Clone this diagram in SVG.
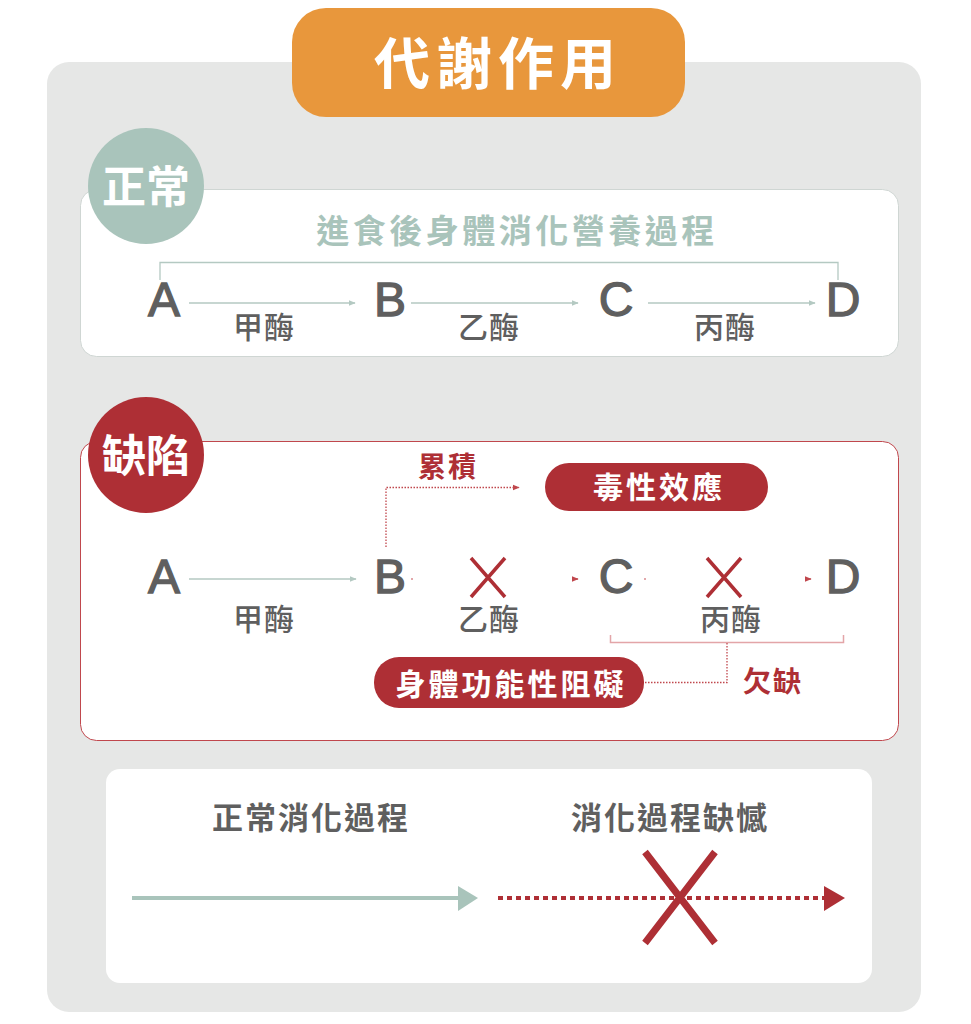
<svg xmlns="http://www.w3.org/2000/svg" width="971" height="1024" viewBox="0 0 971 1024">
<defs>
<style>
.cjk{font-family:"Noto Sans CJK TC","Noto Sans CJK SC",sans-serif;font-weight:700}
.let{font-family:"Liberation Sans",Arial,sans-serif;font-size:48px;fill:#5f5f5f;stroke:#5f5f5f;stroke-width:1.3}
.lbl{font-size:30px;fill:#5f5f5f;letter-spacing:1px;font-weight:500}
.wt{fill:#fff}
.red{fill:#ae2f35}
.thin{stroke:#b4c9c2;stroke-width:1.3;fill:none}
.rdot{stroke:#c0474d;stroke-width:1.3;fill:none;stroke-dasharray:1.5 1.5}
.xr{stroke:#ae2f35;stroke-width:3.5;fill:none}
</style>
<marker id="ag" viewBox="0 0 10 10" refX="9" refY="5" markerWidth="7" markerHeight="7" markerUnits="userSpaceOnUse" orient="auto"><path d="M0,1 L10,5 L0,9 z" fill="#b4c9c2"/></marker>
<marker id="ar" viewBox="0 0 10 10" refX="9" refY="5" markerWidth="7" markerHeight="7" markerUnits="userSpaceOnUse" orient="auto"><path d="M0,1 L10,5 L0,9 z" fill="#c0474d"/></marker>
</defs>
<rect width="971" height="1024" fill="#fff"/>
<rect x="47" y="62" width="874" height="950" rx="22" fill="#e6e7e6"/>
<g id="title">
<rect x="292" y="8" width="393" height="109" rx="34" fill="#e8973c"/>
<text x="498" y="84" text-anchor="middle" class="cjk wt" font-size="56" font-weight="500" letter-spacing="6">代謝作用</text>
</g>
<g id="normal-box">
<rect x="80.5" y="189.5" width="818" height="167" rx="16" fill="#fff" stroke="#cfd6d3" stroke-width="1"/>
<text x="517" y="243" text-anchor="middle" class="cjk" font-size="33" fill="#a9c4bb" letter-spacing="3.5">進食後身體消化營養過程</text>
</g>
<g id="normal-badge">
<circle cx="146" cy="186" r="58" fill="#a9c4bb"/>
<text x="146" y="203" text-anchor="middle" class="cjk wt" font-size="44">正常</text>
</g>
<g id="n-A"><text x="164" y="316" text-anchor="middle" class="let">A</text></g>
<g id="n-B"><text x="390" y="316" text-anchor="middle" class="let">B</text></g>
<g id="n-C"><text x="616" y="316" text-anchor="middle" class="let">C</text></g>
<g id="n-D"><text x="843" y="316" text-anchor="middle" class="let">D</text></g>
<g id="n-labels">
<text x="264" y="338" text-anchor="middle" class="cjk lbl">甲酶</text>
<text x="489" y="338" text-anchor="middle" class="cjk lbl">乙酶</text>
<text x="725" y="338" text-anchor="middle" class="cjk lbl">丙酶</text>
</g>
<g id="defect-box">
<rect x="80.5" y="441.5" width="818" height="299" rx="16" fill="#fff" stroke="#c0474d" stroke-width="1"/>
</g>
<g id="defect-badge">
<circle cx="146" cy="455" r="58" fill="#ae2f35"/>
<text x="146" y="472" text-anchor="middle" class="cjk wt" font-size="44">缺陷</text>
</g>
<g id="d-A"><text x="164" y="593" text-anchor="middle" class="let">A</text></g>
<g id="d-B"><text x="390" y="593" text-anchor="middle" class="let">B</text></g>
<g id="d-C"><text x="616" y="593" text-anchor="middle" class="let">C</text></g>
<g id="d-D"><text x="843" y="593" text-anchor="middle" class="let">D</text></g>
<g id="d-labels">
<text x="264" y="630" text-anchor="middle" class="cjk lbl">甲酶</text>
<text x="489" y="630" text-anchor="middle" class="cjk lbl">乙酶</text>
<text x="731" y="630" text-anchor="middle" class="cjk lbl">丙酶</text>
<text x="448" y="477" text-anchor="middle" class="cjk red" font-size="28" letter-spacing="2">累積</text>
<text x="773" y="692" text-anchor="middle" class="cjk red" font-size="28" letter-spacing="2">欠缺</text>
</g>
<g id="toxic">
<rect x="545" y="463" width="223" height="48" rx="24" fill="#ae2f35"/>
<text x="659" y="498" text-anchor="middle" class="cjk wt" font-size="30" letter-spacing="3">毒性效應</text>
</g>
<g id="block">
<rect x="374" y="657" width="270" height="51" rx="25" fill="#ae2f35"/>
<text x="511" y="695" text-anchor="middle" class="cjk wt" font-size="30" letter-spacing="3">身體功能性阻礙</text>
</g>
<g id="x-marks">
<path class="xr" d="M471,558 L505,597 M505,558 L471,597"/>
<path class="xr" d="M707,558 L741,597 M741,558 L707,597"/>
</g>
<g id="legend">
<rect x="106" y="769" width="766" height="214" rx="14" fill="#fff"/>
<text x="311" y="829" text-anchor="middle" class="cjk" font-size="31" fill="#5f5f5f" letter-spacing="2">正常消化過程</text>
<text x="670" y="829" text-anchor="middle" class="cjk" font-size="31" fill="#5f5f5f" letter-spacing="2">消化過程缺憾</text>
<line x1="132" y1="898" x2="460" y2="898" stroke="#a9c4bb" stroke-width="4"/>
<path d="M458,886 L478,898 L458,911 z" fill="#a9c4bb"/>
<line x1="498" y1="898" x2="826" y2="898" stroke="#ae2f35" stroke-width="4" stroke-dasharray="5 4"/>
<path d="M824,886 L845,898 L824,911 z" fill="#ae2f35"/>
<path d="M645,852 L715,943 M715,852 L645,943" stroke="#ae2f35" stroke-width="7" fill="none"/>
</g>
<g id="connectors">
<path class="thin" d="M160,280 V262.5 H838 V280"/>
<line class="thin" x1="189" y1="303" x2="355" y2="303" marker-end="url(#ag)"/>
<line class="thin" x1="411" y1="303" x2="578" y2="303" marker-end="url(#ag)"/>
<line class="thin" x1="648" y1="303" x2="815" y2="303" marker-end="url(#ag)"/>
<line class="thin" x1="189" y1="579" x2="356" y2="579" marker-end="url(#ag)"/>
<line stroke="#d98a8e" stroke-width="1.3" x1="411" y1="579" x2="413" y2="579"/>
<line stroke="#c0474d" stroke-width="1.3" x1="572" y1="579" x2="578" y2="579" marker-end="url(#ar)"/>
<line stroke="#d98a8e" stroke-width="1.3" x1="644" y1="579" x2="646" y2="579"/>
<line stroke="#c0474d" stroke-width="1.3" x1="805" y1="579" x2="811" y2="579" marker-end="url(#ar)"/>
<path class="rdot" d="M386,547 V487.5 H519" marker-end="url(#ar)"/>
<path d="M610.5,635 V642.5 H843.5 V635" stroke="#e3a5a8" stroke-width="1.5" fill="none"/>
<path class="rdot" d="M727,643 V682.5 H644"/>
</g>
</svg>
